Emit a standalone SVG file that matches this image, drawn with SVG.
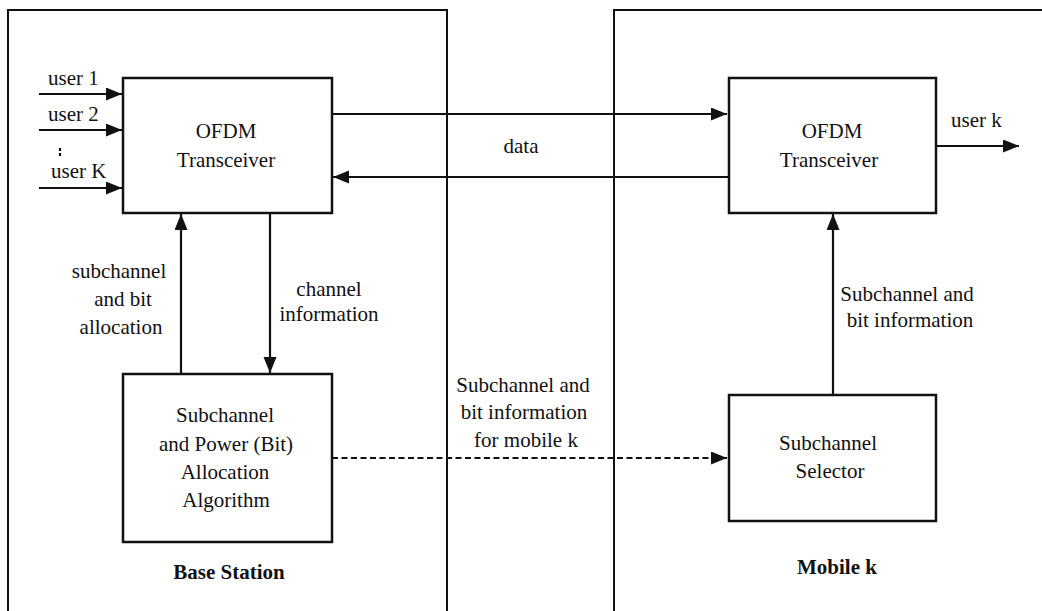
<svg xmlns="http://www.w3.org/2000/svg" width="1042" height="611" viewBox="0 0 1042 611">
<style>
text{font-family:"Liberation Serif","DejaVu Serif",serif;font-size:21px;font-weight:400;fill:#111;}
.c{text-anchor:middle;}
.b{font-weight:700;}
.frame{fill:none;stroke:#111;stroke-width:2;}
.box{fill:#fff;stroke:#111;stroke-width:2.5;}
.ln{fill:none;stroke:#111;stroke-width:2.2;}
.dash{stroke-dasharray:6,3.5;}
</style>
<defs>
<marker id="ah" markerUnits="userSpaceOnUse" markerWidth="18" markerHeight="14" refX="16" refY="6.5" orient="auto">
<path d="M0,0 L16,6.5 L0,13 z" fill="#111"/>
</marker>
</defs>
<rect width="1042" height="611" fill="#fff"/>
<g id="base-station-frame">
<path class="frame" d="M8,615 V10 H447 V615"/>
<text class="c b" x="229" y="579">Base Station</text>
</g>
<g id="mobile-frame">
<path class="frame" d="M614,615 V10 H1046"/>
<text class="c b" x="837" y="574">Mobile k</text>
</g>
<g id="connectors">
<line class="ln" x1="39" y1="94" x2="122" y2="94" marker-end="url(#ah)"/>
<line class="ln" x1="39" y1="130" x2="122" y2="130" marker-end="url(#ah)"/>
<line class="ln" x1="39" y1="188" x2="122" y2="188" marker-end="url(#ah)"/>
<line class="ln" x1="332" y1="114" x2="727" y2="114" marker-end="url(#ah)"/>
<line class="ln" x1="728" y1="177" x2="333" y2="177" marker-end="url(#ah)"/>
<line class="ln" x1="936" y1="146" x2="1019" y2="146" marker-end="url(#ah)"/>
<line class="ln" x1="181" y1="374" x2="181" y2="214" marker-end="url(#ah)"/>
<line class="ln" x1="270" y1="213" x2="270" y2="373" marker-end="url(#ah)"/>
<line class="ln dash" x1="332" y1="458" x2="727" y2="458" marker-end="url(#ah)"/>
<line class="ln" x1="833" y1="395" x2="833" y2="214" marker-end="url(#ah)"/>
<path d="M60,148 V151 M60,153 V156" stroke="#111" stroke-width="2.2"/>
<text x="48" y="85">user 1</text>
<text x="48" y="121">user 2</text>
<text x="51" y="178">user K</text>
<text class="c" x="521" y="153">data</text>
<text x="951" y="127">user k</text>
<text class="c" x="119" y="278">subchannel</text>
<text class="c" x="123" y="306">and bit</text>
<text class="c" x="121" y="334">allocation</text>
<text class="c" x="329" y="296">channel</text>
<text class="c" x="329" y="321">information</text>
<text class="c" x="523" y="392">Subchannel and</text>
<text class="c" x="524" y="419">bit information</text>
<text class="c" x="526" y="447">for mobile k</text>
<text class="c" x="907" y="301">Subchannel and</text>
<text class="c" x="910" y="327">bit information</text>
</g>
<g id="bs-ofdm">
<rect class="box" x="123" y="78" width="209" height="135"/>
<text class="c" x="226" y="138">OFDM</text>
<text class="c" x="226" y="167">Transceiver</text>
</g>
<g id="bs-alloc">
<rect class="box" x="123" y="374" width="209" height="168"/>
<text class="c" x="225" y="422">Subchannel</text>
<text class="c" x="226" y="451">and Power (Bit)</text>
<text class="c" x="225" y="479">Allocation</text>
<text class="c" x="226" y="507">Algorithm</text>
</g>
<g id="ms-ofdm">
<rect class="box" x="729" y="78" width="207" height="135"/>
<text class="c" x="832" y="138">OFDM</text>
<text class="c" x="829" y="167">Transceiver</text>
</g>
<g id="ms-selector">
<rect class="box" x="729" y="395" width="207" height="126"/>
<text class="c" x="828" y="450">Subchannel</text>
<text class="c" x="830" y="478">Selector</text>
</g>
</svg>
